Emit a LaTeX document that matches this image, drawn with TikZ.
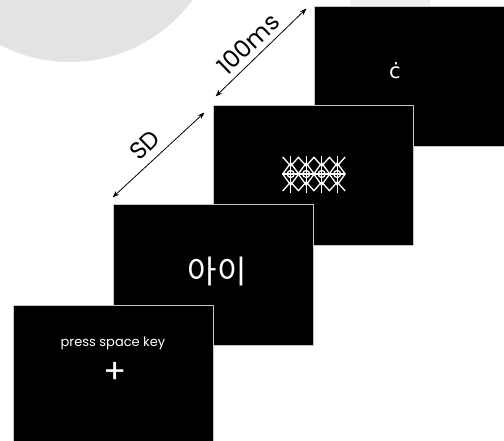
\documentclass[tikz,border=0pt]{standalone}
\usepackage{fontspec}
\setmainfont{Poppins}
\newfontfamily\hangul{Noto Sans CJK KR}
\newfontfamily\dejavu{DejaVu Sans}
\usetikzlibrary{arrows.meta,calc}

\begin{document}
\begin{tikzpicture}[
        x=1pt, y=-1pt,
        screen/.style={
            draw=gray!45,
            line width=1pt,
            fill=black,
            minimum width=200pt,
            minimum height=140pt,
            inner sep=0pt
        },
        stim/.style={text=white, inner sep=0pt},
        timing/.style={{Stealth[length=7pt,width=5pt]}-{Stealth[length=7pt,width=5pt]}, line width=0.8pt},
        maskline/.style={white, line width=1.3pt}
    ]
    \useasboundingbox (0,0) rectangle (504,441);

    % faint marks in the background
    \fill[gray!22] (70,-90) circle (152);
    \fill[gray!12] (350,0) rectangle (430,7);

    % screens, back to front
    \node[screen] (probe) at (414,77) {};
    \node[screen] (masker) at (313,176) {};
    \node[screen] (target) at (213,275) {};
    \node[screen] (fixation) at (113,375) {};

    % stimuli
    \node[stim, font=\dejavu\fontsize{21}{21}\selectfont] (letter) at (395,71) {ċ};

    \draw[maskline] (282,174) -- (345,174);
    \foreach \i in {0,...,3} {
        \pgfmathsetmacro\cx{290.7+15.5*\i}
        \draw[maskline] (\cx,156) -- (\cx,193);
        \draw[maskline] ({\cx-8},174) -- (\cx,163) -- ({\cx+8},174) -- (\cx,185) -- cycle;
        \draw[maskline] ({\cx-8},157) -- (\cx,166) -- ({\cx+8},157);
        \draw[maskline] ({\cx-8},191) -- (\cx,182) -- ({\cx+8},191);
        \draw[maskline] (\cx,174) circle (3.5);
    }

    \node[stim, font=\hangul\fontsize{32}{32}\selectfont] (word) at (217,272) {아이};

    \node[stim, font=\fontsize{13}{13}\selectfont] (instr) at (113,343) {press space key};
    \node[stim, font=\fontsize{34}{34}\selectfont] (cross) at (115,373) {+};

    % intervals
    \coordinate (sd-a) at ($(target.north west)+(0,-7)$);
    \coordinate (sd-b) at ($(masker.north west)+(-8,7)$);
    \coordinate (ms-a) at ($(masker.north west)+(3,-9)$);
    \coordinate (ms-b) at ($(probe.north west)+(-7,2)$);

    \draw[timing] (sd-a) -- (sd-b);
    \draw[timing] (ms-a) -- (ms-b);

    \node[font=\fontsize{24}{24}\selectfont, rotate=44, inner sep=0pt] (sd) at (145,145) {SD};
    \node[font=\fontsize{24}{24}\selectfont, rotate=44, inner sep=0pt] (ms) at (248,44) {100ms};

\end{tikzpicture}
\end{document}
